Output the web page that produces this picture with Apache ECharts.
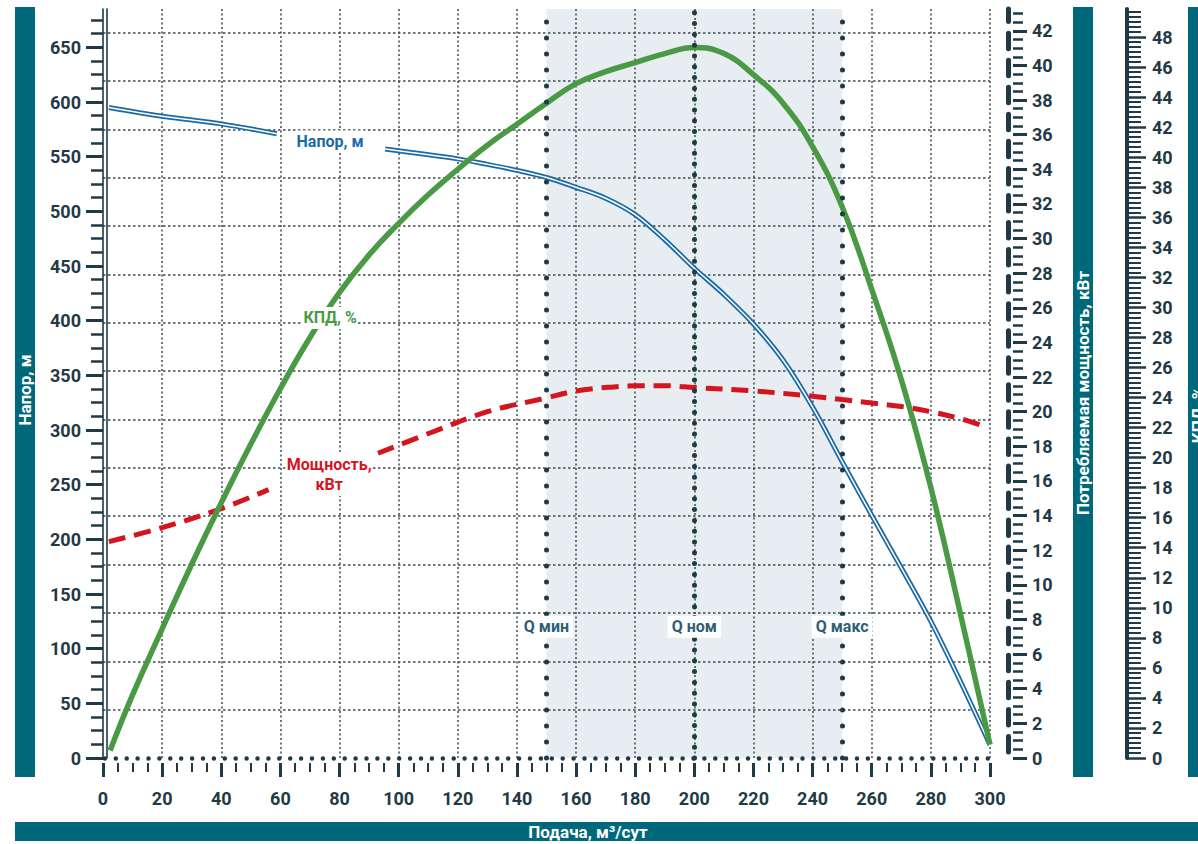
<!DOCTYPE html>
<html lang="ru">
<head>
<meta charset="utf-8">
<title>Характеристика насоса</title>
<script src="https://cdn.jsdelivr.net/npm/echarts@6.0.0/dist/echarts.min.js"></script>
<style>
html,body{margin:0;padding:0;background:#ffffff;}
#chart{width:1198px;height:844px;}
</style>
</head>
<body>
<div id="chart"></div>
<script>
// ---------- data ----------
// Head (Напор, м) vs flow; null marks the break where the label sits
const headQ = [2, 20, 40, 58.8, 77, 95.4, 120, 130, 140, 150, 160, 170, 180, 190, 200, 210, 220, 230, 240, 250, 260, 270, 280, 290, 300];
const headH = [595, 587, 580, 571, null, 557, 548, 543, 537.5, 531, 522, 512, 497, 474, 448, 424, 397, 364, 321, 271, 222, 174, 125, 70, 12];

// Power (Мощность, кВт)
const powerQ = [2, 20, 40, 56, 75, 93, 111, 130, 150, 160, 170, 180, 190, 200, 220, 240, 250, 260, 270, 280, 290, 299];
const powerP = [12.5, 13.3, 14.4, 15.5, null, 17.6, 18.8, 20.0, 20.8, 21.2, 21.4, 21.5, 21.5, 21.4, 21.2, 20.9, 20.7, 20.5, 20.3, 20.0, 19.6, 19.1];

// Efficiency (КПД, %)
const effQ = [2.4, 10, 20, 30, 40, 50, 60, 70, 80, 90, 100, 110, 120, 130, 140, 150, 160, 170, 180, 190, 200, 210, 220, 230, 240, 250, 260, 270, 280, 290, 300];
const effE = [0.5, 4.2, 8.6, 12.9, 17.0, 20.9, 24.6, 28.0, 31.0, 33.5, 35.6, 37.5, 39.2, 40.8, 42.2, 43.6, 44.9, 45.7, 46.3, 46.9, 47.3, 46.9, 45.5, 43.6, 40.7, 36.7, 31.2, 25.2, 18.0, 9.6, 0.9];

// Operating range markers
const qMarks = [150, 200, 250];
const qMarkLabels = ['Q мин', 'Q ном', 'Q макс'];

// Axis ranges / tick steps
const flowMin = 0, flowMax = 300, flowStep = 20;
const headMax = 685.1, headStep = 50, headLastLabel = 650, headMinorStep = 12.5, headMinorLast = 675;
const powerMax = 43.26, powerStep = 2, powerLastLabel = 42, powerMinorStep = 0.5, powerMinorLast = 43;
const effMax = 49.87, effStep = 2, effLastLabel = 48, effMinorDiv = 3, effMinorLast = 49.67;
const gridRows = 15.49; // horizontal grid: 15 equal rows

// Titles
const titleFlow = 'Подача, м³/сут';
const titleHead = 'Напор, м';
const titlePower = 'Потребляемая мощность, кВт';
const titleEff = 'КПД, %';

// ---------- helpers ----------
function seq(start, end, step) { const a = []; for (let v = start; v <= end + 1e-9; v += step) a.push(+v.toFixed(4)); return a; }
const headMajor = seq(0, headLastLabel, headStep);
const headMinor = seq(headMinorStep, headMinorLast, headMinorStep).filter(v => Math.abs(v % headStep) > 1e-6);
const powerMajor = seq(0, powerLastLabel, powerStep);
const powerMinor = seq(powerMinorStep, powerMinorLast, powerMinorStep).filter(v => Math.abs(v % powerStep) > 1e-6);
const effMajor = seq(0, effLastLabel, effStep);
const effMinor = [];
for (let i = 1; i / effMinorDiv <= effMinorLast + 1e-6; i++) { if (i % (effMinorDiv * effStep) !== 0) effMinor.push(+(i / effMinorDiv).toFixed(4)); }

function pairs(xs, ys) { return xs.map((x, i) => [x, ys[i] === null ? '-' : ys[i]]); }

const ink = '#1f3a46';
const gridInk = '#3b4b53';
const teal = '#00687b';
const labelFont = { color: ink, fontSize: 18, fontWeight: 'bold', fontFamily: 'Roboto' };

function yAx(o) {
  const base = {
    type: 'value', min: 0, gridIndex: 0,
    splitLine: { show: false },
    axisLabel: { show: false },
    axisTick: { show: false },
    axisLine: { show: false, onZero: false }
  };
  return Object.assign(base, o);
}

const chart = echarts.init(document.getElementById('chart'), null, { renderer: 'svg' });

const option = {
  animation: false,
  backgroundColor: '#ffffff',
  grid: { left: 103, right: 208, top: 9, bottom: 86, containLabel: false, outerBoundsMode: 'none' },
  xAxis: [
    {
      type: 'value', min: flowMin, max: flowMax, interval: flowStep, position: 'bottom',
      axisLine: { show: true, onZero: false, lineStyle: { color: ink, width: 4.5, type: [0, 10.9], dashOffset: 9, cap: 'round' } },
      axisTick: { show: false },
      axisLabel: Object.assign({ margin: 31 }, labelFont),
      splitLine: { show: true, showMinLine: false, lineStyle: { color: gridInk, width: 1.5, type: [2, 2.5] } }
    },
    {
      type: 'value', min: flowMin, max: flowMax, interval: flowStep, position: 'bottom', offset: 5,
      axisLine: { show: false, onZero: false },
      axisTick: { show: true, length: 14, lineStyle: { color: ink, width: 3 } },
      minorTick: { show: true, splitNumber: 4, length: 9, lineStyle: { color: ink, width: 2 } },
      axisLabel: { show: false },
      splitLine: { show: false }
    }
  ],
  yAxis: [
    // 0: head axis (labels + major ticks + first line)
    yAx({ position: 'left', max: headMax, interval: headStep,
      axisLine: { show: true, onZero: false, lineStyle: { color: ink, width: 1.6 } },
      axisTick: { show: true, customValues: headMajor, length: 17, lineStyle: { color: ink, width: 3 } },
      axisLabel: Object.assign({ show: true, showMaxLabel: false, margin: 22 }, labelFont) }),
    // 1: second line of the double head axis
    yAx({ position: 'left', offset: -3.6, max: headMax,
      axisLine: { show: true, onZero: false, lineStyle: { color: ink, width: 1.6 } } }),
    // 2: head minor ticks
    yAx({ position: 'left', max: headMax,
      axisTick: { show: true, customValues: headMinor, length: 12, lineStyle: { color: ink, width: 2.5 } } }),
    // 3: power axis bar (broken thick line)
    yAx({ position: 'right', offset: 18, max: powerMax,
      axisLine: { show: true, onZero: false, lineStyle: { color: ink, width: 5, type: [15.5, 11.55], dashOffset: 20.75 } } }),
    // 4: power axis labels + major ticks
    yAx({ position: 'right', offset: 23, max: powerMax, interval: powerStep,
      axisTick: { show: true, customValues: powerMajor, length: 14, lineStyle: { color: ink, width: 3 } },
      axisLabel: Object.assign({ show: true, showMaxLabel: false, margin: 19 }, labelFont) }),
    // 5: power minor ticks
    yAx({ position: 'right', offset: 23, max: powerMax,
      axisTick: { show: true, customValues: powerMinor, length: 10, lineStyle: { color: ink, width: 2.5 } } }),
    // 6: efficiency axis
    yAx({ position: 'right', offset: 137, max: effMax, interval: effStep,
      axisLine: { show: true, onZero: false, lineStyle: { color: ink, width: 4 } },
      axisTick: { show: true, customValues: effMajor, length: 19, lineStyle: { color: ink, width: 2.5 } },
      axisLabel: Object.assign({ show: true, showMaxLabel: false, margin: 25 }, labelFont) }),
    // 7: efficiency minor ticks
    yAx({ position: 'right', offset: 137, max: effMax,
      axisTick: { show: true, customValues: effMinor, length: 14, lineStyle: { color: ink, width: 2 } } }),
    // 8: horizontal grid rows
    yAx({ position: 'right', max: gridRows, interval: 1,
      splitLine: { show: true, showMinLine: false, showMaxLine: false, lineStyle: { color: gridInk, width: 1.5, type: [2.5, 2.5] } } })
  ],
  series: [
    {
      name: 'band', type: 'line', xAxisIndex: 0, yAxisIndex: 0, data: [],
      silent: true, symbol: 'none',
      markArea: { silent: true, z: -1, itemStyle: { color: '#e7edf0' },
        data: [[{ xAxis: qMarks[0] }, { xAxis: qMarks[2] }]] }
    },
    {
      name: 'Напор', type: 'line', xAxisIndex: 0, yAxisIndex: 0, z: 2,
      data: pairs(headQ, headH), smooth: 0.35, symbol: 'none', connectNulls: false,
      lineStyle: { color: '#1b6aa5', width: 5 }
    },
    {
      name: 'Напор-inner', type: 'line', xAxisIndex: 0, yAxisIndex: 0, z: 3,
      data: pairs(headQ, headH), smooth: 0.35, symbol: 'none', connectNulls: false,
      lineStyle: { color: '#ffffff', width: 1.5 }
    },
    {
      name: 'Мощность', type: 'line', xAxisIndex: 0, yAxisIndex: 4, z: 3,
      data: pairs(powerQ, powerP), smooth: 0.35, symbol: 'none', connectNulls: false,
      lineStyle: { color: '#d4141f', width: 5, type: [17, 9] }
    },
    {
      name: 'КПД', type: 'line', xAxisIndex: 0, yAxisIndex: 6, z: 4,
      data: pairs(effQ, effE), smooth: 0.45, symbol: 'none',
      lineStyle: { color: '#4a9a45', width: 5.5 },
      markLine: {
        silent: true, symbol: 'none', label: { show: false }, z: 6,
        lineStyle: { color: ink, width: 5, cap: 'round', type: [0, 16] },
        data: qMarks.map((q, i) => ({ xAxis: q, lineStyle: { color: ink, width: 5, cap: 'round', type: i === 1 ? [0, 10.8] : [0, 16] } }))
      }
    }
  ],
  graphic: [
    { id: 'bandL', type: 'rect', z: 50, shape: { x: 15, y: 7, width: 20, height: 770 }, style: { fill: teal } },
    { id: 'bandLt', type: 'text', z: 51, x: 25, y: 390, rotation: Math.PI / 2,
      style: { text: titleHead, fill: '#ffffff', font: 'bold 17px Roboto', align: 'center', verticalAlign: 'middle' } },
    { id: 'bandB', type: 'rect', z: 50, shape: { x: 15, y: 822, width: 1183, height: 19 }, style: { fill: teal } },
    { id: 'bandBt', type: 'text', z: 51, x: 588, y: 831.5,
      style: { text: titleFlow, fill: '#ffffff', font: 'bold 17px Roboto', align: 'center', verticalAlign: 'middle' } },
    { id: 'bandP', type: 'rect', z: 50, shape: { x: 1073, y: 7, width: 20, height: 770 }, style: { fill: teal } },
    { id: 'bandPt', type: 'text', z: 51, x: 1083, y: 393, rotation: Math.PI / 2,
      style: { text: titlePower, fill: '#ffffff', font: 'bold 17px Roboto', align: 'center', verticalAlign: 'middle' } },
    { id: 'bandE', type: 'rect', z: 50, shape: { x: 1188, y: 7, width: 20, height: 770 }, style: { fill: teal } },
    { id: 'bandEt', type: 'text', z: 51, x: 1198, y: 415, rotation: Math.PI / 2,
      style: { text: titleEff, fill: '#ffffff', font: 'bold 17px Roboto', align: 'center', verticalAlign: 'middle' } }
  ]
};

chart.setOption(option);

// ---------- labels placed in data coordinates ----------
const seriesTags = [
  { id: 'tagHead', text: 'Напор, м', q: 76.8, axis: 0, v: 564, color: '#1b6aa5' },
  { id: 'tagEff', text: 'КПД, %', q: 76.8, axis: 6, v: 29.3, color: '#4a9a45' },
  { id: 'tagPower', text: 'Мощность,\nкВт', q: 76.5, axis: 4, v: 16.35, color: '#d4141f' }
];
const qTagLevel = 120; // head-axis value where the Q labels sit

const extra = [];
seriesTags.forEach(t => {
  const x = chart.convertToPixel({ xAxisIndex: 0 }, t.q);
  const y = chart.convertToPixel({ yAxisIndex: t.axis }, t.v);
  extra.push({ id: t.id, type: 'text', z: 60, x: x, y: y,
    style: { text: t.text, fill: t.color, font: 'bold 16px Roboto', align: 'center', verticalAlign: 'middle',
      lineHeight: 20, backgroundColor: '#ffffff', padding: [1, 1] } });
});
qMarks.forEach((q, i) => {
  const x = chart.convertToPixel({ xAxisIndex: 0 }, q);
  const y = chart.convertToPixel({ yAxisIndex: 0 }, qTagLevel);
  extra.push({ id: 'qtag' + i, type: 'text', z: 60, x: x, y: y,
    style: { text: qMarkLabels[i], fill: '#2e5e74', font: 'bold 16px Roboto', align: 'center', verticalAlign: 'middle',
      backgroundColor: '#ffffff', padding: [3, 4] } });
});
chart.setOption({ graphic: extra });
</script>
</body>
</html>
